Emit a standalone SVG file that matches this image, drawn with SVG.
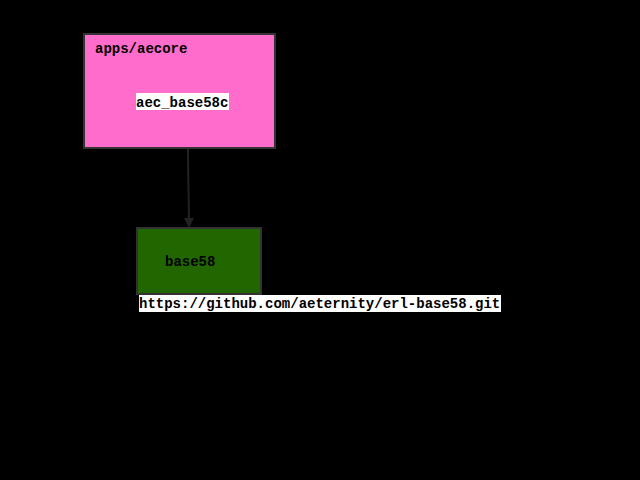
<svg xmlns="http://www.w3.org/2000/svg" width="640" height="480" viewBox="0 0 640 480">
  <style>
    .node { stroke: #333333; stroke-width: 2; }
    .lbl { font-family: "Liberation Mono", "Courier New", monospace; font-size: 14px; font-weight: bold; fill: #000000; }
    .tag { fill: #ffffff; }
    .edge { fill: none; stroke: #222222; stroke-width: 2; }
  </style>
  <defs>
    <marker id="arrow" viewBox="0 0 10 10" refX="9" refY="5" markerWidth="5" markerHeight="5" orient="auto">
      <path d="M0,0 L10,5 L0,10 z" fill="#222222"/>
    </marker>
  </defs>
  <rect width="640" height="480" fill="#000000"/>

  <g id="connectors">
    <path class="edge" d="M188,149 C188,180 189,200 189,227" marker-end="url(#arrow)"/>
  </g>

  <g id="aecore">
    <rect class="node" x="84" y="34" width="191" height="114" fill="#ff6ccb"/>
    <text class="lbl" x="95" y="53">apps/aecore</text>
    <rect class="tag" x="136" y="93" width="93" height="17"/>
    <text class="lbl" x="136" y="107">aec_base58c</text>
  </g>

  <g id="base58">
    <rect class="node" x="137" y="228" width="124" height="66" fill="#226600"/>
    <text class="lbl" x="165" y="266">base58</text>
    <rect class="tag" x="139" y="295" width="362" height="17"/>
    <text class="lbl" x="139" y="308">https://github.com/aeternity/erl-base58.git</text>
  </g>
</svg>
